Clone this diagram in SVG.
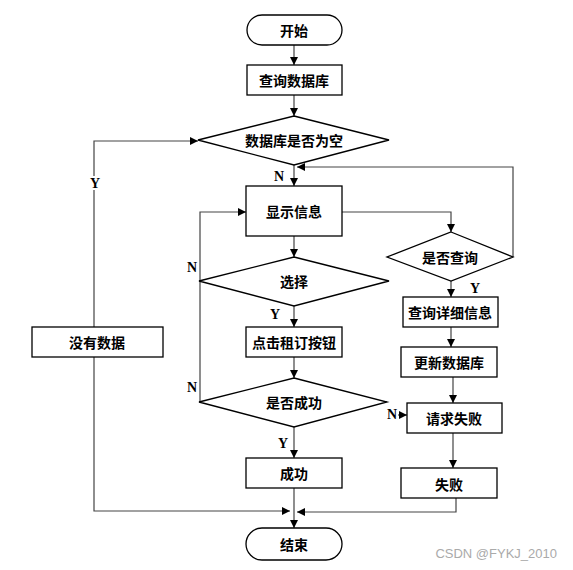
<svg xmlns="http://www.w3.org/2000/svg" width="573" height="570" viewBox="0 0 573 570">
<defs>
<marker id="ah" viewBox="0 0 10 10" refX="10" refY="5" markerWidth="8" markerHeight="8" markerUnits="userSpaceOnUse" orient="auto">
<path d="M0,0 L10,5 L0,10 z" fill="#000"/>
</marker>
</defs>
<style>
.n{fill:#fff;stroke:#000;stroke-width:1.3}
.t{font-family:"Noto Sans CJK SC","Liberation Sans",sans-serif;font-size:14px;font-weight:bold;fill:#000;text-anchor:middle;dominant-baseline:central}
.l{font-family:"Liberation Serif",serif;font-size:14px;font-weight:bold;fill:#000;text-anchor:middle;dominant-baseline:central}
.c{fill:none;stroke:#444;stroke-width:1.2;marker-end:url(#ah)}
.p{fill:none;stroke:#444;stroke-width:1.2}
</style>
<rect width="573" height="570" fill="#fff"/>
<g id="connectors">
<path class="c" d="M294,45 V65"/>
<path class="c" d="M294,95 V116"/>
<path class="c" d="M294,165 V186"/>
<path class="c" d="M94,327 V141 H198"/>
<path class="c" d="M94,357 V511 H290"/>
<path class="c" d="M342,212 H451 V232"/>
<path class="c" d="M513,257 V167 H297"/>
<path class="c" d="M294,236 V257"/>
<path class="c" d="M200,402 V212 H246"/>
<path class="c" d="M294,306 V327"/>
<path class="c" d="M294,357 V378"/>
<path class="c" d="M294,427 V458"/>
<path class="c" d="M294,488 V528"/>
<path class="c" d="M451,281 V297"/>
<path class="c" d="M451,327 V347"/>
<path class="c" d="M453,377 V403"/>
<path class="c" d="M453,433 V468"/>
<path class="c" d="M456,498 V512 H297"/>
<path class="c" d="M398,415 H407"/>
<text class="l" x="279" y="176">N</text>
<rect x="88" y="176" width="13" height="14" fill="#fff"/>
<text class="l" x="95" y="183">Y</text>
<text class="l" x="192" y="267">N</text>
<text class="l" x="275" y="314">Y</text>
<text class="l" x="192" y="387">N</text>
<text class="l" x="392" y="414">N</text>
<text class="l" x="283" y="443">Y</text>
<text class="l" x="475" y="288">Y</text>
</g>
<g id="start"><rect class="n" x="247" y="15" width="95" height="30" rx="15"/><text class="t" x="294" y="30">开始</text></g>
<g id="query-db"><rect class="n" x="247" y="65" width="95" height="30"/><text class="t" x="294" y="80">查询数据库</text></g>
<g id="db-empty"><polygon class="n" points="294,116 389,140 294,165 198,140"/><text class="t" x="294" y="140">数据库是否为空</text></g>
<g id="no-data"><rect class="n" x="32" y="327" width="131" height="30"/><text class="t" x="97" y="342">没有数据</text></g>
<g id="show-info"><rect class="n" x="246" y="186" width="96" height="50"/><text class="t" x="294" y="211">显示信息</text></g>
<g id="is-query"><polygon class="n" points="451,232 513,257 451,281 387,257"/><text class="t" x="450" y="257">是否查询</text></g>
<g id="query-detail"><rect class="n" x="403" y="297" width="95" height="30"/><text class="t" x="450" y="312">查询详细信息</text></g>
<g id="update-db"><rect class="n" x="401" y="347" width="96" height="30"/><text class="t" x="449" y="362">更新数据库</text></g>
<g id="request-fail"><rect class="n" x="407" y="403" width="95" height="30"/><text class="t" x="454" y="418">请求失败</text></g>
<g id="fail"><rect class="n" x="401" y="468" width="96" height="30"/><text class="t" x="449" y="484">失败</text></g>
<g id="select"><polygon class="n" points="294,257 389,281 294,306 199,281"/><text class="t" x="294" y="281">选择</text></g>
<g id="click-rent"><rect class="n" x="246" y="327" width="96" height="30"/><text class="t" x="294" y="342">点击租订按钮</text></g>
<g id="is-success"><polygon class="n" points="294,378 387,402 294,427 199,402"/><text class="t" x="294" y="402">是否成功</text></g>
<g id="success"><rect class="n" x="246" y="458" width="96" height="30"/><text class="t" x="294" y="473">成功</text></g>
<g id="end"><rect class="n" x="246" y="528" width="96" height="32" rx="16"/><text class="t" x="294" y="544">结束</text></g>
<text x="557" y="553" font-family="Liberation Sans,sans-serif" font-size="13" fill="#aaa" text-anchor="end" dominant-baseline="central">CSDN @FYKJ_2010</text>
</svg>
